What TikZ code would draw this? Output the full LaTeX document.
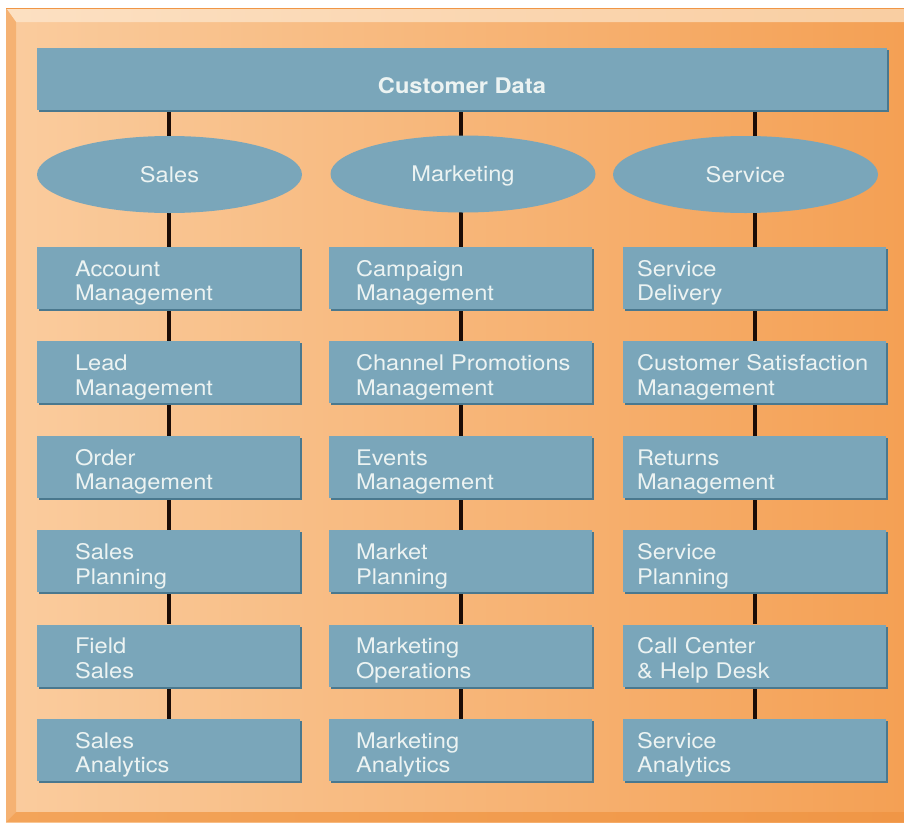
\documentclass[tikz,border=0pt]{standalone}
\usepackage{fontspec}
\setmainfont{TeX Gyre Heros}[FakeStretch=1.1]
\usetikzlibrary{positioning,shapes.geometric,shadows,backgrounds}
\definecolor{panelL}{RGB}{250,204,158}
\definecolor{panelR}{RGB}{244,160,84}
\definecolor{bevelTL}{RGB}{252,224,194}
\definecolor{bevelTR}{RGB}{249,206,162}
\definecolor{bevelL}{RGB}{245,178,115}
\definecolor{bevelBL}{RGB}{243,164,90}
\definecolor{bevelBR}{RGB}{240,150,70}
\definecolor{boxblue}{RGB}{122,166,186}
\definecolor{boxedge}{RGB}{74,120,142}
\definecolor{boxtext}{RGB}{236,243,242}
\definecolor{linkline}{RGB}{28,12,6}
\newcommand{\chartfont}{\fontsize{21.5}{24.7}\selectfont}

\tikzset{
  blockbox/.style={rectangle, fill=boxblue, text=boxtext, inner sep=0pt,
    drop shadow={shadow xshift=2pt, shadow yshift=-2pt, fill=boxedge, opacity=1}},
  databox/.style={blockbox, minimum width=850pt, minimum height=62pt,
    font=\chartfont\bfseries, text height=29pt, text depth=0pt},
  areabox/.style={ellipse, fill=boxblue, text=boxtext, inner sep=0pt,
    minimum width=265pt, minimum height=77pt, text height=15.5pt, text depth=0pt},
  taskbox/.style={blockbox, minimum height=62pt, text width=263pt, align=left,
    text height=21.5pt, text depth=25pt, execute at begin node={\leftskip=#1}},
  link/.style={line width=4pt, linkline},
}

\begin{document}
\begin{tikzpicture}[x=1pt, y=-1pt, every node/.style={font=\chartfont}]
    \useasboundingbox (0,0) rectangle (904,822);

    % top bar and the three areas
    \node[databox] (data) at (462,79) {Customer Data};
    \node[areabox] (sales) at (169.5,174.5) {Sales};
    \node[areabox] (mktg) at (463,174) {Marketing};
    \node[areabox] (serv) at (745.5,174.5) {Service};

    % sales column
    \node[taskbox=38pt] (acct) at (168.5,278) {Account\\Management};
    \node[taskbox=38pt, below=32pt of acct] (lead) {Lead\\Management};
    \node[taskbox=38pt, below=32pt of lead] (order) {Order\\Management};
    \node[taskbox=38pt, below=32pt of order] (splan) {Sales\\Planning};
    \node[taskbox=38pt, below=32pt of splan] (field) {Field\\Sales};
    \node[taskbox=38pt, below=32pt of field] (sanal) {Sales\\Analytics};

    % marketing column
    \node[taskbox=27pt] (camp) at (460.5,278) {Campaign\\Management};
    \node[taskbox=27pt, below=32pt of camp] (promo) {Channel Promotions\\Management};
    \node[taskbox=27pt, below=32pt of promo] (events) {Events\\Management};
    \node[taskbox=27pt, below=32pt of events] (mplan) {Market\\Planning};
    \node[taskbox=27pt, below=32pt of mplan] (mops) {Marketing\\Operations};
    \node[taskbox=27pt, below=32pt of mops] (manal) {Marketing\\Analytics};

    % service column
    \node[taskbox=14pt] (deliv) at (754.5,278) {Service\\Delivery};
    \node[taskbox=14pt, below=32pt of deliv] (csat) {Customer Satisfaction\\Management};
    \node[taskbox=14pt, below=32pt of csat] (returns) {Returns\\Management};
    \node[taskbox=14pt, below=32pt of returns] (vplan) {Service\\Planning};
    \node[taskbox=14pt, below=32pt of vplan] (help) {Call Center\\\& Help Desk};
    \node[taskbox=14pt, below=32pt of help] (vanal) {Service\\Analytics};

    \begin{scope}[on background layer]
        % orange panel with bevelled edges
        \shade[left color=panelL, right color=panelR] (6,8) rectangle (904,822);
        \shade[left color=bevelTL, right color=bevelTR] (6,8) -- (904,8) -- (904,22) -- (16,22) -- cycle;
        \fill[bevelL] (6,8) -- (16,22) -- (16,812) -- (6,822) -- cycle;
        \shade[left color=bevelBL, right color=bevelBR] (6,822) -- (16,812) -- (904,812) -- (904,822) -- cycle;
        \draw[bevelBR, line width=1pt] (6,8) -- (904,8);

        \draw[link] (acct |- data) -- (acct |- sales);
        \draw[link] (acct |- sales) -- (acct);
        \draw[link] (acct) -- (lead);
        \draw[link] (lead) -- (order);
        \draw[link] (order) -- (splan);
        \draw[link] (splan) -- (field);
        \draw[link] (field) -- (sanal);

        \draw[link] (camp |- data) -- (camp |- mktg);
        \draw[link] (camp |- mktg) -- (camp);
        \draw[link] (camp) -- (promo);
        \draw[link] (promo) -- (events);
        \draw[link] (events) -- (mplan);
        \draw[link] (mplan) -- (mops);
        \draw[link] (mops) -- (manal);

        \draw[link] (deliv |- data) -- (deliv |- serv);
        \draw[link] (deliv |- serv) -- (deliv);
        \draw[link] (deliv) -- (csat);
        \draw[link] (csat) -- (returns);
        \draw[link] (returns) -- (vplan);
        \draw[link] (vplan) -- (help);
        \draw[link] (help) -- (vanal);
    \end{scope}
\end{tikzpicture}
\end{document}
